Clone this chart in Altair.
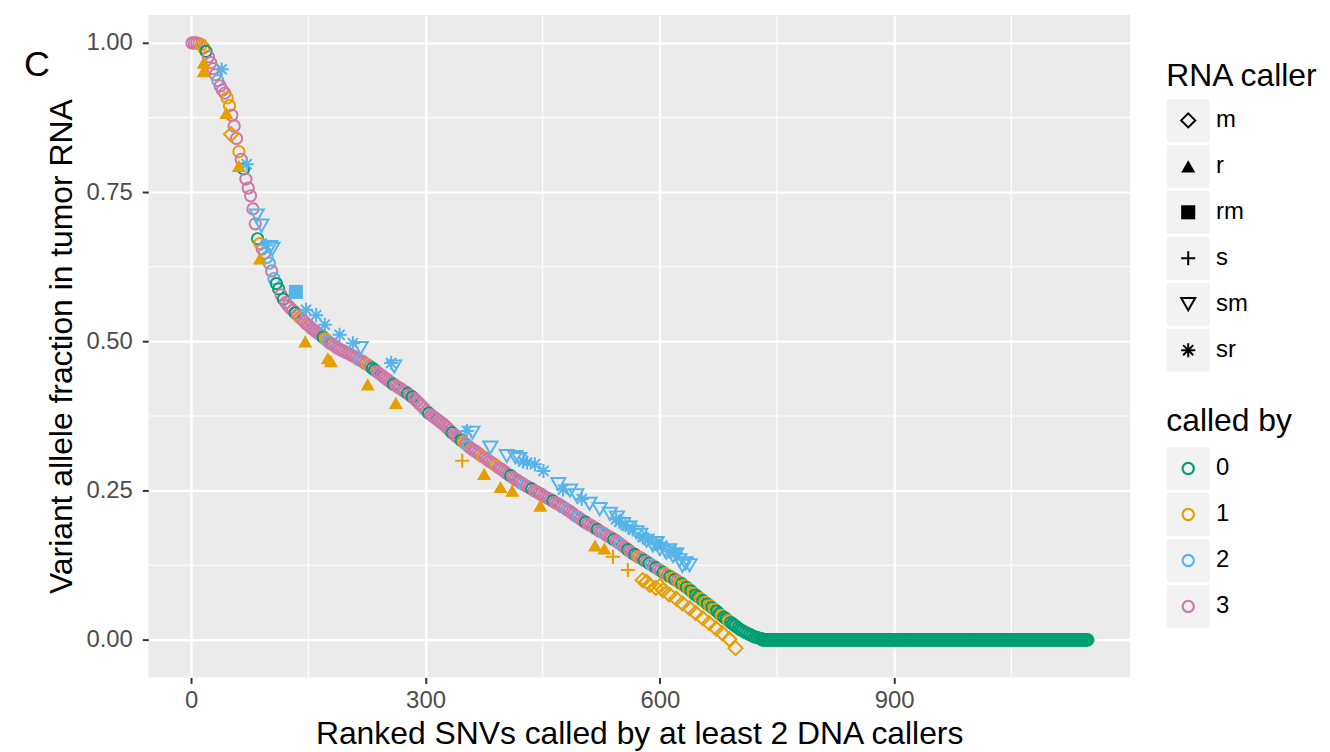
import altair as alt
import pandas as pd

# ---------------- data ----------------
# Main ribbon of open circles: one SNV read every 3 ranks from rank 1 to 730
curve_first_rank = 1
curve_rank_step = 3
curve_vaf = [
    1.000, 1.000, 1.000, 0.999, 0.997, 0.992, 0.986, 0.977, 0.967, 0.957,
    0.947, 0.937, 0.928, 0.921, 0.916, 0.908, 0.895, 0.879, 0.861, 0.840,
    0.818, 0.805, 0.789, 0.772, 0.757, 0.744, 0.722, 0.697, 0.672, 0.664,
    0.655, 0.648, 0.641, 0.631, 0.618, 0.605, 0.597, 0.588, 0.578, 0.571,
    0.565, 0.560, 0.556, 0.552, 0.548, 0.544, 0.540, 0.537, 0.533, 0.529,
    0.526, 0.522, 0.519, 0.516, 0.513, 0.510, 0.507, 0.504, 0.500, 0.497,
    0.495, 0.492, 0.489, 0.487, 0.485, 0.483, 0.481, 0.479, 0.477, 0.475,
    0.473, 0.470, 0.468, 0.466, 0.463, 0.461, 0.458, 0.455, 0.452, 0.449,
    0.446, 0.443, 0.440, 0.437, 0.434, 0.431, 0.428, 0.426, 0.423, 0.421,
    0.418, 0.416, 0.413, 0.410, 0.407, 0.404, 0.400, 0.396, 0.392, 0.388,
    0.384, 0.380, 0.377, 0.374, 0.371, 0.368, 0.365, 0.362, 0.359, 0.355,
    0.351, 0.347, 0.344, 0.340, 0.337, 0.334, 0.331, 0.328, 0.324, 0.321,
    0.318, 0.316, 0.313, 0.310, 0.307, 0.305, 0.302, 0.299, 0.297, 0.294,
    0.291, 0.288, 0.286, 0.283, 0.280, 0.277, 0.275, 0.272, 0.269, 0.267,
    0.264, 0.262, 0.259, 0.257, 0.255, 0.253, 0.250, 0.248, 0.246, 0.244,
    0.241, 0.239, 0.237, 0.235, 0.233, 0.230, 0.228, 0.226, 0.223, 0.221,
    0.218, 0.216, 0.213, 0.210, 0.207, 0.205, 0.202, 0.199, 0.197, 0.194,
    0.192, 0.190, 0.187, 0.185, 0.182, 0.180, 0.178, 0.175, 0.173, 0.171,
    0.168, 0.166, 0.163, 0.160, 0.157, 0.154, 0.151, 0.148, 0.145, 0.143,
    0.140, 0.138, 0.136, 0.133, 0.131, 0.128, 0.126, 0.123, 0.121, 0.118,
    0.116, 0.113, 0.111, 0.108, 0.106, 0.104, 0.101, 0.099, 0.096, 0.094,
    0.091, 0.088, 0.085, 0.082, 0.078, 0.075, 0.072, 0.069, 0.066, 0.063,
    0.060, 0.057, 0.054, 0.051, 0.048, 0.044, 0.041, 0.038, 0.035, 0.032,
    0.029, 0.026, 0.023, 0.020, 0.017, 0.015, 0.013, 0.011, 0.009, 0.007,
    0.005, 0.004, 0.003, 0.002,
]
# "called by" group of each circle above (one digit per circle)
curve_called = (
    "3333110333" "3233311333" "1303333301" "3322320030" "3333031333"
    "3333330123" "3333333333" "3323313003" "3333330333" "3303033333"
    "3033333333" "3033301323" "3333133333" "1333330333" "3323303333"
    "3333033333" "2333323303" "3330332333" "0332330330" "3130302303"
    "3013010310" "1010100101" "0101001001" "0000000000" "0000"
)
# Flat tail: every rank from 731 to 1148 sits at VAF 0, called by 0
tail_first_rank = 731
tail_last_rank = 1148
tail_vaf_value = 0.0
tail_called = "0"

# Points found by RNA callers other than the full set (shape = RNA caller)
r_rank = [16, 16, 45, 61, 88, 146, 175, 179, 226, 262, 375, 396, 411, 447, 517, 529]
r_vaf = [0.967, 0.953, 0.883, 0.794, 0.639, 0.500, 0.472, 0.467, 0.428, 0.397,
         0.278, 0.256, 0.250, 0.225, 0.158, 0.153]
m_rank = [51, 578, 583, 587, 595, 600, 604, 612, 621, 629, 638, 646, 655, 663,
          672, 680, 689, 697]
m_vaf = [0.847, 0.100, 0.097, 0.092, 0.087, 0.090, 0.083, 0.076, 0.069, 0.061,
         0.053, 0.045, 0.036, 0.028, 0.019, 0.011, 0.001, -0.014]
rm_rank = [134]
rm_vaf = [0.583]
s_rank = [347, 540, 559]
s_vaf = [0.300, 0.139, 0.117]
sm_rank = [84, 90, 101, 104, 217, 260, 360, 383, 404, 415, 420, 470, 485, 493,
           510, 523, 536, 545, 553, 561, 570, 575, 583, 591, 596, 600, 608, 612,
           617, 621, 625, 629, 633, 638]
sm_vaf = [0.711, 0.694, 0.658, 0.655, 0.489, 0.458, 0.347, 0.322, 0.308, 0.306,
          0.303, 0.261, 0.250, 0.242, 0.228, 0.219, 0.211, 0.205, 0.194, 0.188,
          0.180, 0.176, 0.166, 0.158, 0.162, 0.152, 0.146, 0.150, 0.140, 0.143,
          0.133, 0.124, 0.128, 0.125]
sr_rank = [39, 71, 96, 147, 160, 171, 190, 207, 256, 353, 425, 430, 440, 451,
           476, 500, 544, 548, 556, 565, 578, 585, 595, 603, 612, 620]
sr_vaf = [0.956, 0.797, 0.661, 0.553, 0.544, 0.528, 0.511, 0.497, 0.464, 0.350,
          0.299, 0.297, 0.294, 0.283, 0.252, 0.236, 0.202, 0.198, 0.192, 0.185,
          0.172, 0.168, 0.160, 0.158, 0.148, 0.146]
caller_called = {"m": "1", "r": "1", "rm": "2", "s": "1", "sm": "2", "sr": "2"}

called_levels = ["0", "1", "2", "3"]
caller_levels = ["m", "r", "rm", "s", "sm", "sr"]
x_ticks = [0, 300, 600, 900]
x_minor = [150, 450, 750, 1050]
y_ticks = [0.0, 0.25, 0.50, 0.75, 1.00]
y_minor = [0.125, 0.375, 0.625, 0.875]

# ---------------- tables ----------------
circles = pd.DataFrame({
    "rank": [curve_first_rank + curve_rank_step * i for i in range(len(curve_vaf))],
    "vaf": curve_vaf,
    "called": list(curve_called),
})
tail_ranks = list(range(tail_first_rank, tail_last_rank + 1))
tail = pd.DataFrame({
    "rank": tail_ranks,
    "vaf": [tail_vaf_value] * len(tail_ranks),
    "called": [tail_called] * len(tail_ranks),
})
circles = pd.concat([circles, tail], ignore_index=True)

groups = {"m": (m_rank, m_vaf), "r": (r_rank, r_vaf), "rm": (rm_rank, rm_vaf),
          "s": (s_rank, s_vaf), "sm": (sm_rank, sm_vaf), "sr": (sr_rank, sr_vaf)}
rows = []
for caller, (rk, vf) in groups.items():
    for a, b in zip(rk, vf):
        rows.append({"rank": a, "vaf": b, "caller": caller, "called": caller_called[caller]})
symbols = pd.DataFrame(rows)

# ---------------- styling ----------------
FONT = "Liberation Sans"
PALETTE = ["#009E73", "#E69F00", "#56B4E9", "#CC79A7"]
PLUS = "M-1,0L1,0M0,-1L0,1"
STAR = "M-1,0L1,0M0,-1L0,1M-0.72,-0.72L0.72,0.72M-0.72,0.72L0.72,-0.72"
SHAPES = ["diamond", "triangle-up", "square", PLUS, "triangle-down", STAR]
SIZES = [200, 200, 125, 230, 210, 230]
FILLED = ["r", "rm"]
CIRCLE_SIZE = 128

W, H = 987, 666
XT = "Ranked SNVs called by at least 2 DNA callers"
YT = "Variant allele fraction in tumor RNA"

color_scale = alt.Scale(domain=called_levels, range=PALETTE)
shape_scale = alt.Scale(domain=caller_levels, range=SHAPES)
size_scale = alt.Scale(domain=caller_levels, range=SIZES)

common_axis = dict(
    grid=True, gridColor="white", gridWidth=2.2, domain=False,
    tickColor="#333333", tickWidth=2, tickSize=6,
    labelFont=FONT, labelFontSize=24, labelColor="#4D4D4D",
    titleFont=FONT, titleFontSize=32, titleColor="black", titleFontWeight="normal",
)
x_enc = alt.X("rank:Q", title=XT,
              scale=alt.Scale(domain=[-55, 1202], nice=False, zero=False),
              axis=alt.Axis(values=x_ticks, format="d", labelPadding=5,
                            titlePadding=6, **common_axis))
y_enc = alt.Y("vaf:Q", title=YT,
              scale=alt.Scale(domain=[-0.063, 1.047], nice=False, zero=False),
              axis=alt.Axis(values=y_ticks, format=".2f", labelPadding=10,
                            titlePadding=7, **common_axis))

minor_x_layer = alt.Chart(pd.DataFrame({"rank": x_minor})).mark_rule(
    color="white", strokeWidth=1.1).encode(x=x_enc)
minor_y_layer = alt.Chart(pd.DataFrame({"vaf": y_minor})).mark_rule(
    color="white", strokeWidth=1.1).encode(y=y_enc)

circle_layer = alt.Chart(circles).mark_point(
    shape="circle", filled=False, size=CIRCLE_SIZE, strokeWidth=2, opacity=1
).encode(x=x_enc, y=y_enc,
         color=alt.Color("called:N", scale=color_scale, legend=None))

open_layer = alt.Chart(symbols).transform_filter(
    {"not": alt.FieldOneOfPredicate(field="caller", oneOf=FILLED)}
).mark_point(filled=False, strokeWidth=2, opacity=1).encode(
    x=x_enc, y=y_enc,
    color=alt.Color("called:N", scale=color_scale, legend=None),
    shape=alt.Shape("caller:N", scale=shape_scale, legend=None),
    size=alt.Size("caller:N", scale=size_scale, legend=None),
)
filled_layer = alt.Chart(symbols).transform_filter(
    alt.FieldOneOfPredicate(field="caller", oneOf=FILLED)
).mark_point(filled=True, opacity=1).encode(
    x=x_enc, y=y_enc,
    color=alt.Color("called:N", scale=color_scale, legend=None),
    shape=alt.Shape("caller:N", scale=shape_scale, legend=None),
    size=alt.Size("caller:N", scale=size_scale, legend=None),
)
tag_layer = alt.Chart(pd.DataFrame({"t": ["C"]})).mark_text(
    font=FONT, fontSize=36, color="black", align="center", baseline="alphabetic"
).encode(text="t:N", x=alt.value(-112), y=alt.value(61))

main = alt.layer(
    minor_x_layer, minor_y_layer, circle_layer, open_layer, filled_layer, tag_layer
).properties(width=W, height=H,
             view=alt.ViewBackground(fill="#EBEBEB", stroke="transparent", strokeWidth=0))

# ---------------- hand-built legend panel ----------------
ROW_PX = 46.2
shape_title_row = 71.3 / ROW_PX
shape_key_row0 = 106.0 / ROW_PX
color_title_row = 418.7 / ROW_PX
color_key_row0 = 456.0 / ROW_PX

leg_shapes = pd.DataFrame({
    "caller": caller_levels, "label": caller_levels,
    "row": [shape_key_row0 + i for i in range(len(caller_levels))],
})
leg_colors = pd.DataFrame({
    "called": called_levels, "label": called_levels,
    "row": [color_key_row0 + i for i in range(len(called_levels))],
})
leg_keys = pd.concat([leg_shapes[["label", "row"]], leg_colors[["label", "row"]]],
                     ignore_index=True)
leg_titles = pd.DataFrame({"label": ["RNA caller", "called by"],
                           "row": [shape_title_row, color_title_row]})

LW = 180
KEY_X = 47.5
LABEL_X = 75.5
TITLE_X = 25.5
leg_y = alt.Y("row:Q", axis=None,
              scale=alt.Scale(domain=[0, H / ROW_PX], nice=False, zero=False, reverse=True))

key_boxes = alt.Chart(leg_keys).mark_square(size=1849, color="#F2F2F2", opacity=1).encode(
    x=alt.value(KEY_X), y=leg_y)
leg_open = alt.Chart(leg_shapes).transform_filter(
    {"not": alt.FieldOneOfPredicate(field="caller", oneOf=FILLED)}
).mark_point(filled=False, color="black", strokeWidth=2, opacity=1).encode(
    x=alt.value(KEY_X), y=leg_y,
    shape=alt.Shape("caller:N", scale=shape_scale, legend=None),
    size=alt.Size("caller:N", scale=size_scale, legend=None))
leg_filled = alt.Chart(leg_shapes).transform_filter(
    alt.FieldOneOfPredicate(field="caller", oneOf=FILLED)
).mark_point(filled=True, color="black", opacity=1).encode(
    x=alt.value(KEY_X), y=leg_y,
    shape=alt.Shape("caller:N", scale=shape_scale, legend=None),
    size=alt.Size("caller:N", scale=size_scale, legend=None))
leg_circles = alt.Chart(leg_colors).mark_point(
    shape="circle", filled=False, size=CIRCLE_SIZE, strokeWidth=2.2, opacity=1).encode(
    x=alt.value(KEY_X), y=leg_y,
    color=alt.Color("called:N", scale=color_scale, legend=None))
leg_labels = alt.Chart(leg_keys).mark_text(
    font=FONT, fontSize=24, color="black", align="left", baseline="middle").encode(
    x=alt.value(LABEL_X), y=leg_y, text="label:N")
leg_title_text = alt.Chart(leg_titles).mark_text(
    font=FONT, fontSize=32, color="black", align="left", baseline="alphabetic").encode(
    x=alt.value(TITLE_X), y=leg_y, text="label:N")

legend_panel = alt.layer(
    key_boxes, leg_open, leg_filled, leg_circles, leg_labels, leg_title_text
).properties(width=LW, height=H,
             view=alt.ViewBackground(fill="white", stroke="transparent", strokeWidth=0))

chart = alt.hconcat(main, legend_panel, spacing=10).resolve_scale(
    x="independent", y="independent"
).properties(
    padding={"left": 16, "top": 4, "right": 2, "bottom": 2},
    background="white",
).configure_view(stroke="transparent", strokeWidth=0).configure(font=FONT)

chart.save("out.html", embed_options={"renderer": "svg", "actions": False})
